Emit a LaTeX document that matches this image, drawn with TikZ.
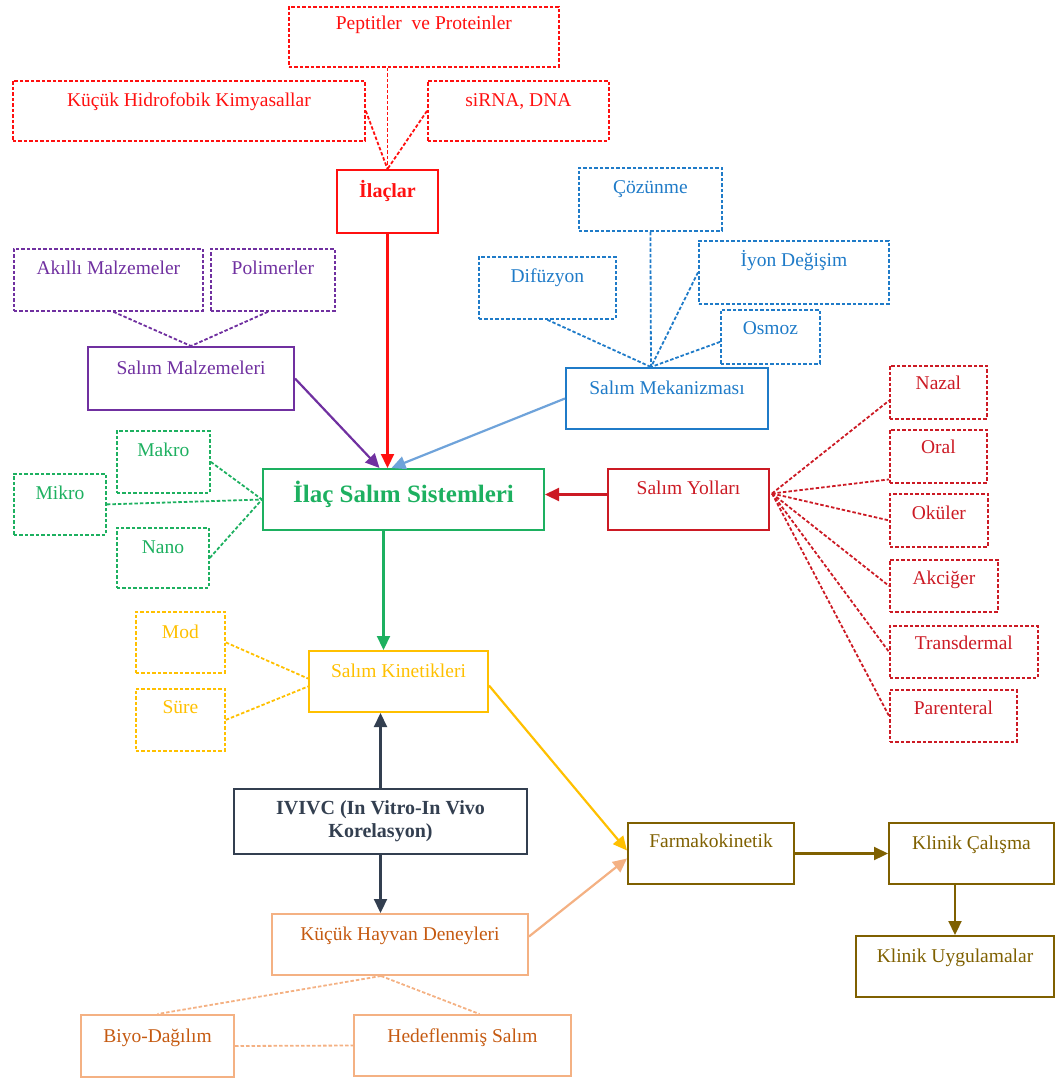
\documentclass[tikz,border=0pt]{standalone}
\usepackage{fontspec}
\setmainfont{Liberation Serif}
\usetikzlibrary{arrows.meta,calc}
\definecolor{cRed}{HTML}{FF1010}
\definecolor{cPur}{HTML}{7030A0}
\definecolor{cBlu}{HTML}{1F7BC8}
\definecolor{cBluL}{HTML}{6FA3DA}
\definecolor{cGrn}{HTML}{1DB060}
\definecolor{cDRed}{HTML}{CC1A24}
\definecolor{cYel}{HTML}{FFC000}
\definecolor{cNav}{HTML}{333F50}
\definecolor{cPch}{HTML}{F4B183}
\definecolor{cPchT}{HTML}{C55A11}
\definecolor{cOl}{HTML}{7F6000}
\newcommand{\fsN}{\fontsize{19.5}{22}\selectfont}
\newcommand{\fsB}{\fontsize{20}{23}\selectfont\bfseries}
\newcommand{\fsL}{\fontsize{25}{28}\selectfont\bfseries}
\begin{document}
\begin{tikzpicture}[x=1pt,y=-1pt,
  base/.style={anchor=north west, inner xsep=2pt, inner ysep=0pt, font=\fsN},
  geo/.style n args={4}{minimum width=#1pt, minimum height=#2pt, text height=#3pt, text depth=#4pt},
  dbox/.style={base, draw, dash pattern=on 3.5pt off 2pt, line width=1.8pt},
  sbox/.style={base, draw, line width=2pt},
  dl/.style={dash pattern=on 3.5pt off 2pt, line width=1.8pt},
  arr/.style={line width=2.2pt, -{Triangle[length=14pt,width=13pt]}},
  gRed/.style={draw=cRed, text=cRed},
  gPur/.style={draw=cPur, text=cPur},
  gBlu/.style={draw=cBlu, text=cBlu},
  gGrn/.style={draw=cGrn, text=cGrn},
  gDRed/.style={draw=cDRed, text=cDRed},
  gYel/.style={draw=cYel, text=cYel},
  gNav/.style={draw=cNav, text=cNav},
  gPch/.style={draw=cPch, text=cPchT},
  gOl/.style={draw=cOl, text=cOl}]
\useasboundingbox (0,0) rectangle (1055,1080);

% --- drugs (red) ---
\node[dbox,gRed,geo={270}{60}{23}{37}] (pep) at (288,6) {Peptitler\ \ ve Proteinler};
\node[dbox,gRed,geo={352}{60}{26}{34}] (kuc) at (12,80) {Küçük Hidrofobik Kimyasallar};
\node[dbox,gRed,geo={181}{60}{26}{34}] (sirna) at (427,80) {siRNA, DNA};
\node[sbox,gRed,geo={101}{63}{27}{36},font=\fsB] (ilac) at (336,169) {İlaçlar};

% --- materials (purple) ---
\node[dbox,gPur,geo={189}{62}{26}{36}] (akilli) at (13,248) {Akıllı Malzemeler};
\node[dbox,gPur,geo={124}{62}{26}{36}] (polim) at (210,248) {Polimerler};
\node[sbox,gPur,geo={206}{63}{27}{36}] (salmal) at (87,346) {Salım Malzemeleri};

% --- mechanism (blue) ---
\node[dbox,gBlu,geo={143}{63}{26}{37}] (cozun) at (578,167) {Çözünme};
\node[dbox,gBlu,geo={137}{62}{26}{36}] (difuz) at (478,256) {Difüzyon};
\node[dbox,gBlu,geo={190}{63}{26}{37}] (iyon) at (698,240) {İyon Değişim};
\node[dbox,gBlu,geo={99}{54}{25}{29}] (osmoz) at (720,309) {Osmoz};
\node[sbox,gBlu,geo={202}{61}{26}{35}] (salmek) at (565,367) {Salım Mekanizması};

% --- systems (green) ---
\node[dbox,gGrn,geo={93}{62}{26}{36}] (makro) at (116,430) {Makro};
\node[dbox,gGrn,geo={92}{61}{26}{35}] (mikro) at (13,473) {Mikro};
\node[dbox,gGrn,geo={92}{60}{26}{34}] (nano) at (116,527) {Nano};
\node[sbox,gGrn,geo={281}{61}{33}{28},font=\fsL] (ilacsis) at (262,468) {İlaç Salım Sistemleri};

% --- routes (dark red) ---
\node[sbox,gDRed,geo={161}{61}{25}{36}] (salyol) at (607,468) {Salım Yolları};
\node[dbox,gDRed,geo={97}{53}{24}{29}] (nazal) at (889,365) {Nazal};
\node[dbox,gDRed,geo={97}{53}{24}{29}] (oral) at (889,429) {Oral};
\node[dbox,gDRed,geo={98}{53}{26}{27}] (okuler) at (889,493) {Oküler};
\node[dbox,gDRed,geo={108}{52}{25}{27}] (akciger) at (889,559) {Akciğer};
\node[dbox,gDRed,geo={148}{52}{24}{28}] (transd) at (889,625) {Transdermal};
\node[dbox,gDRed,geo={127}{52}{25}{27}] (parent) at (889,689) {Parenteral};

% --- kinetics (yellow) ---
\node[dbox,gYel,geo={89}{61}{27}{34}] (mod) at (135,611) {Mod};
\node[dbox,gYel,geo={89}{62}{25}{37}] (sure) at (135,688) {Süre};
\node[sbox,gYel,geo={179}{61}{26}{35}] (salkin) at (308,650) {Salım Kinetikleri};

% --- IVIVC (navy) ---
\node[sbox,gNav,font=\fsB,align=center,minimum width=293pt,minimum height=65pt] (ivivc) at (233,788) {IVIVC (In Vitro-In Vivo\\Korelasyon)};

% --- clinical (olive) ---
\node[sbox,gOl,geo={166}{61}{24}{37}] (farma) at (627,822) {Farmakokinetik};
\node[sbox,gOl,geo={165}{61}{26}{35}] (klcal) at (888,822) {Klinik Çalışma};
\node[sbox,gOl,geo={198}{61}{26}{35}] (kluyg) at (855,935) {Klinik Uygulamalar};

% --- animal (peach) ---
\node[sbox,gPch,geo={256}{61}{26}{35}] (kuchay) at (271,913) {Küçük Hayvan Deneyleri};
\node[sbox,gPch,geo={153}{62}{27}{35}] (biyo) at (80,1014) {Biyo-Dağılım};
\node[sbox,gPch,geo={217}{61}{27}{34}] (hedef) at (353,1014) {Hedeflenmiş Salım};

% ===== connectors =====
\draw[dl,cRed] (ilac.north |- pep.south) -- (ilac.north);
\draw[dl,cRed] (kuc.east) -- (ilac.north);
\draw[dl,cRed] (sirna.west) -- (ilac.north);
\draw[arr,cRed] (ilac.south) -- (ilac.south |- ilacsis.north);

\draw[dl,cPur] ($(akilli.south)+(5,0)$) -- (salmal.north);
\draw[dl,cPur] ($(polim.south)+(-5,0)$) -- (salmal.north);
\draw[arr,cPur] (salmal.east) -- ($(ilacsis.north)+(-24,0)$);

\coordinate (bm) at ($(salmek.north)+(-16,0)$);
\draw[dl,cBlu] (cozun.south) -- (bm);
\draw[dl,cBlu] (difuz.south) -- (bm);
\draw[dl,cBlu] (iyon.west) -- (bm);
\draw[dl,cBlu] ($(osmoz.west)+(0,5)$) -- (bm);
\draw[arr,cBluL] (salmek.west) -- ($(ilacsis.north)+(-12,0)$);

\draw[dl,cGrn] (makro.east) -- (ilacsis.west);
\draw[dl,cGrn] (mikro.east) -- (ilacsis.west);
\draw[dl,cGrn] (nano.east) -- (ilacsis.west);
\coordinate (gs) at ($(ilacsis.south)+(-20,0)$);
\draw[arr,cGrn] (gs) -- (gs |- salkin.north);

\draw[arr,cDRed] ($(salyol.west)+(0,-5)$) -- ($(ilacsis.east)+(0,-5)$);
\coordinate (sy) at ($(salyol.east)+(2,-6)$);
\draw[dl,cDRed] (sy) -- ($(nazal.north west)!0.65!(nazal.south west)$);
\draw[dl,cDRed] (sy) -- ($(oral.north west)!0.92!(oral.south west)$);
\draw[dl,cDRed] (sy) -- (okuler.west);
\draw[dl,cDRed] (sy) -- (akciger.west);
\draw[dl,cDRed] (sy) -- (transd.west);
\draw[dl,cDRed] (sy) -- (parent.west);

\draw[dl,cYel] (mod.east) -- ($(salkin.west)+(0,-3)$);
\draw[dl,cYel] (sure.east) -- ($(salkin.west)+(0,5)$);
\draw[arr,cYel] ($(salkin.east)+(0,4)$) -- ($(farma.west)+(0,-3)$);

\draw[arr,cNav] (ivivc.north) -- (ivivc.north |- salkin.south);
\draw[arr,cNav] (ivivc.south) -- (ivivc.south |- kuchay.north);

\draw[arr,cPch] ($(kuchay.east)+(0,-8)$) -- ($(farma.west)+(0,5)$);
\coordinate (kh) at ($(kuchay.south)+(-19,0)$);
\draw[dl,cPch] (kh) -- (biyo.north);
\draw[dl,cPch] (kh) -- ($(hedef.north)+(17,0)$);
\draw[dl,cPch] (biyo.east) -- (hedef.west);

\draw[arr,cOl] (farma.east) -- (klcal.west);
\draw[arr,cOl] (kluyg.north |- klcal.south) -- (kluyg.north);
\end{tikzpicture}
\end{document}
